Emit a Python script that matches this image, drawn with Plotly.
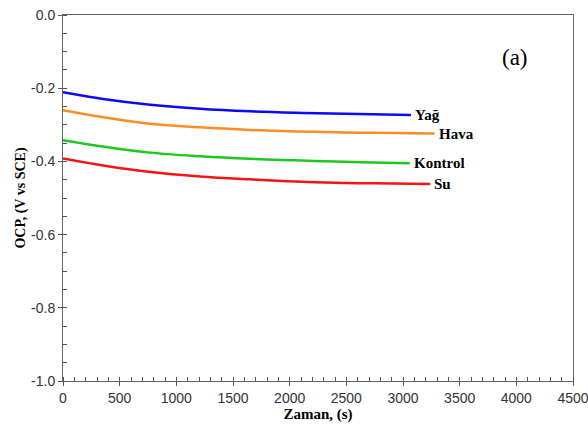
import plotly.graph_objects as go

t_yag = [0, 370, 770, 1210, 1650, 2050, 2490, 3070]
v_yag = [-0.211, -0.230, -0.245, -0.256, -0.263, -0.267, -0.270, -0.273]
t_hava = [0, 370, 770, 1210, 1650, 2050, 2490, 2740, 3280]
v_hava = [-0.260, -0.280, -0.297, -0.307, -0.314, -0.318, -0.321, -0.322, -0.324]
t_kontrol = [0, 370, 770, 1210, 1650, 2050, 2490, 2740, 3060]
v_kontrol = [-0.342, -0.360, -0.376, -0.386, -0.393, -0.397, -0.401, -0.403, -0.405]
t_su = [0, 370, 770, 1210, 1650, 2050, 2490, 2740, 3240]
v_su = [-0.392, -0.412, -0.429, -0.441, -0.449, -0.455, -0.459, -0.460, -0.462]

x_ticks = [0, 500, 1000, 1500, 2000, 2500, 3000, 3500, 4000, 4500]
y_ticks = [0.0, -0.2, -0.4, -0.6, -0.8, -1.0]
y_ticktext = ["0.0", "-0.2", "-0.4", "-0.6", "-0.8", "-1.0"]

series = [
    ("Yağ", t_yag, v_yag, "#0a0af5"),
    ("Hava", t_hava, v_hava, "#ff8c1e"),
    ("Kontrol", t_kontrol, v_kontrol, "#1ec81e"),
    ("Su", t_su, v_su, "#f51414"),
]

fig = go.Figure()
for name, t, v, c in series:
    fig.add_trace(go.Scatter(x=t, y=v, mode="lines", name=name,
                             line=dict(color=c, width=2.5, shape="spline", smoothing=1.0),
                             showlegend=False))
    fig.add_annotation(x=t[-1], y=v[-1], text="<b>" + name + "</b>", showarrow=False,
                       xanchor="left", yanchor="middle", xshift=2,
                       font=dict(family="Liberation Serif", size=15, color="black"))

fig.add_annotation(x=3990, y=-0.115, text="(a)", showarrow=False,
                   font=dict(family="Liberation Serif", size=23, color="black"))

axis_common = dict(showgrid=False, zeroline=False, showline=True, linecolor="#666666",
                   linewidth=1, mirror=True, ticks="outside", ticklen=4,
                   tickcolor="#555555", automargin=False, ticklabeloverflow="allow",
                   tickfont=dict(family="Liberation Sans", size=14, color="#333333"))

fig.update_xaxes(range=[0, 4500], tickvals=x_ticks,
                 minor=dict(dtick=100, tick0=0, ticks="inside", ticklen=4, tickcolor="#555555"),
                 title=dict(text="<b>Zaman, (s)</b>", standoff=0,
                            font=dict(family="Liberation Serif", size=15, color="black")),
                 **axis_common)
fig.update_yaxes(range=[-1.0, 0.0], tickvals=y_ticks, ticktext=y_ticktext,
                 minor=dict(dtick=0.05, tick0=0, ticks="inside", ticklen=4, tickcolor="#555555"),
                 title=dict(text="<b>OCP, (V vs SCE)</b>", standoff=2,
                            font=dict(family="Liberation Serif", size=14, color="black")),
                 **axis_common)

fig.update_layout(width=588, height=437, margin=dict(l=63, r=15, t=15, b=56),
                  plot_bgcolor="white", paper_bgcolor="white")

# remove the default 8px page margin so the figure fills the 588x437 window
fig.write_html("out.html", config={"displayModeBar": False},
               post_script="document.body.style.margin='0px';")
